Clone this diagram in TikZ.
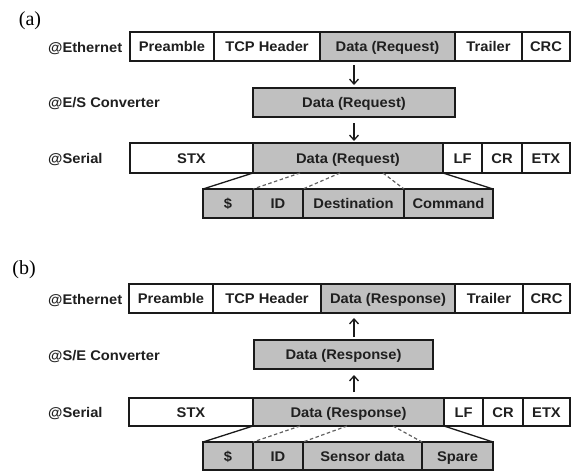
\documentclass[tikz,border=0pt]{standalone}
\usepackage{fontspec}
\setmainfont{Liberation Serif}
\setsansfont[FakeStretch=1.05]{Liberation Sans}
\usetikzlibrary{arrows.meta,calc}
\definecolor{cellgrey}{HTML}{C0C0C0}
\definecolor{linecol}{HTML}{1A1A1A}
\newcommand\cellbox[7]{%
  \node[#6, minimum width={(#3-#2)*1pt}, minimum height={(#5-#4)*1pt}] (#1) at ({(#2+#3)/2},{(#4+#5)/2}) {#7};}
\begin{document}
\begin{tikzpicture}[x=1pt,y=-1pt,
  cellw/.style={draw=linecol, line width=1.3pt, fill=white, inner sep=0pt, outer sep=0pt,
    text height=10pt, text depth=0pt,
    font=\sffamily\bfseries\fontsize{14}{16}\selectfont, text=black!88},
  cellg/.style={cellw, fill=cellgrey},
  lbl/.style={anchor=west, inner sep=0pt, text height=10pt, text depth=0pt,
    font=\sffamily\bfseries\fontsize{14}{16}\selectfont, text=black!88},
  part/.style={anchor=center, inner sep=0pt, font=\rmfamily\fontsize{20}{22}\selectfont},
  arr/.style={line width=1.3pt, draw=linecol, -{Straight Barb[length=5pt,width=9pt,line width=1.3pt]}},
  fan/.style={line width=1.3pt, draw=linecol},
  dfan/.style={line width=1.2pt, draw=black!62, dash pattern=on 3.5pt off 2.5pt}]
\useasboundingbox (0,0) rectangle (576,471);
% ---------------- (a)
\node[part] (pa) at (30,21) {(a)};
\node[lbl] (lethA) at (48,47) {@Ethernet};
\node[lbl] (lesA) at (48,102) {@E/S Converter};
\node[lbl] (lserA) at (48,158) {@Serial};
\cellbox{preA}{130}{214}{32}{61}{cellw}{Preamble}
\cellbox{tcpA}{214}{320}{32}{61}{cellw}{TCP Header}
\cellbox{edA}{320}{455}{32}{61}{cellg}{Data (Request)}
\cellbox{trA}{455}{522}{32}{61}{cellw}{Trailer}
\cellbox{crcA}{522}{570}{32}{61}{cellw}{CRC}
\cellbox{esA}{253}{455}{88}{117}{cellg}{Data (Request)}
\cellbox{stxA}{130}{253}{143}{173}{cellw}{STX}
\cellbox{sdA}{253}{443}{143}{173}{cellg}{Data (Request)}
\cellbox{lfA}{443}{482}{143}{173}{cellw}{LF}
\cellbox{crA}{482}{522}{143}{173}{cellw}{CR}
\cellbox{etxA}{522}{570}{143}{173}{cellw}{ETX}
\cellbox{dolA}{203}{253}{189}{218}{cellg}{\$}
\cellbox{idA}{253}{303}{189}{218}{cellg}{ID}
\cellbox{dstA}{303}{404}{189}{218}{cellg}{Destination}
\cellbox{cmdA}{404}{493}{189}{218}{cellg}{Command}
\draw[arr] ([yshift=-4pt]esA.north |- edA.south) -- ([yshift=3pt]esA.north);
\draw[arr] ([yshift=-6pt]esA.south) -- ([yshift=2pt]esA.south |- sdA.north);
\draw[fan] (sdA.south west) -- (dolA.north west);
\draw[fan] (sdA.south east) -- (cmdA.north east);
\draw[dfan] ([xshift=47pt]sdA.south west) -- (idA.north west);
\draw[dfan] ([xshift=87pt]sdA.south west) -- (dstA.north west);
\draw[dfan] ([xshift=130pt]sdA.south west) -- (cmdA.north west);
% ---------------- (b)
\node[part] (pb) at (24,270) {(b)};
\node[lbl] (lethB) at (48,299) {@Ethernet};
\node[lbl] (lseB) at (48,355) {@S/E Converter};
\node[lbl] (lserB) at (48,412) {@Serial};
\cellbox{preB}{129}{213}{284}{313}{cellw}{Preamble}
\cellbox{tcpB}{213}{321}{284}{313}{cellw}{TCP Header}
\cellbox{edB}{321}{455}{284}{313}{cellg}{Data (Response)}
\cellbox{trB}{455}{523}{284}{313}{cellw}{Trailer}
\cellbox{crcB}{523}{570}{284}{313}{cellw}{CRC}
\cellbox{seB}{254}{433}{340}{369}{cellg}{Data (Response)}
\cellbox{stxB}{129}{253}{398}{426}{cellw}{STX}
\cellbox{sdB}{253}{444}{398}{426}{cellg}{Data (Response)}
\cellbox{lfB}{444}{483}{398}{426}{cellw}{LF}
\cellbox{crB}{483}{523}{398}{426}{cellw}{CR}
\cellbox{etxB}{523}{570}{398}{426}{cellw}{ETX}
\cellbox{dolB}{203}{253}{442}{470}{cellg}{\$}
\cellbox{idB}{253}{303}{442}{470}{cellg}{ID}
\cellbox{snsB}{303}{422}{442}{470}{cellg}{Sensor data}
\cellbox{spB}{422}{493}{442}{470}{cellg}{Spare}
\draw[arr] ([xshift=10.5pt,yshift=3pt]seB.north) -- ([xshift=10.5pt,yshift=-5pt]seB.north |- edB.south);
\draw[arr] ([xshift=10.5pt,yshift=6pt]seB.south |- sdB.north) -- ([xshift=10.5pt,yshift=-6pt]seB.south);
\draw[fan] (sdB.south west) -- (dolB.north west);
\draw[fan] (sdB.south east) -- (spB.north east);
\draw[dfan] ([xshift=47pt]sdB.south west) -- (idB.north west);
\draw[dfan] ([xshift=94pt]sdB.south west) -- (snsB.north west);
\draw[dfan] ([xshift=140pt]sdB.south west) -- (spB.north west);
\end{tikzpicture}
\end{document}
